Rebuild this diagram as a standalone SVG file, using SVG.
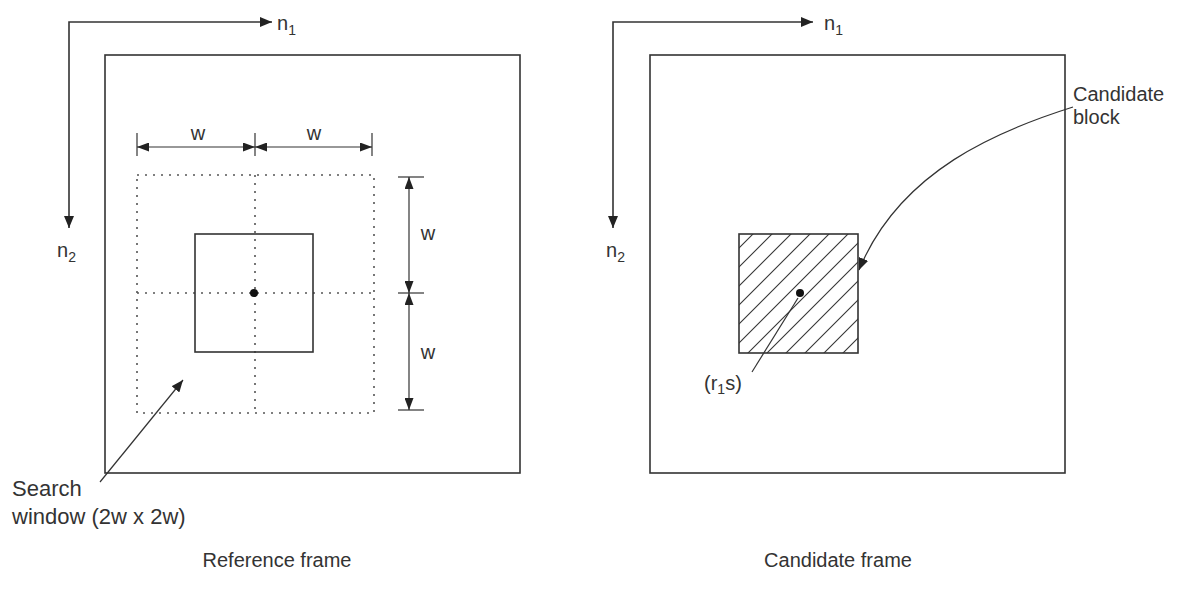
<svg xmlns="http://www.w3.org/2000/svg" width="1190" height="596" viewBox="0 0 1190 596">
<style>
.ln{stroke:#333;stroke-width:1.6;fill:none}
.thin{stroke:#333;stroke-width:1.2;fill:none}
.dot{stroke:#555;stroke-width:1.6;fill:none;stroke-dasharray:2 6}
.t{font-family:"Liberation Sans",Arial,sans-serif;font-size:20px;fill:#333}
.big{font-size:22px}
.sub{font-size:14px}
.hatch{stroke:#333;stroke-width:1.1}
</style>
<defs>
<marker id="ah" viewBox="0 0 12 10" refX="12" refY="5" markerWidth="12" markerHeight="10" markerUnits="userSpaceOnUse" orient="auto-start-reverse">
<path d="M0,0 L12,5 L0,10 z" fill="#222"/>
</marker>
<marker id="ahs" viewBox="0 0 12 9" refX="12" refY="4.5" markerWidth="12" markerHeight="9" markerUnits="userSpaceOnUse" orient="auto-start-reverse">
<path d="M0,0 L12,4.5 L0,9 z" fill="#222"/>
</marker>
<clipPath id="cb"><rect x="739" y="234" width="119" height="119"/></clipPath>
</defs>

<g id="ref-axes">
<path class="ln" d="M69,228 V22 H272" marker-start="url(#ah)" marker-end="url(#ah)"/>
<text class="t" x="277" y="30">n<tspan class="sub" dy="5">1</tspan></text>
<text class="t" x="57" y="257">n<tspan class="sub" dy="5">2</tspan></text>
</g>

<g id="reference-frame">
<rect class="ln" x="105" y="55" width="415" height="418"/>
</g>

<g id="search-window">
<rect class="dot" x="137" y="175" width="237" height="238"/>
<line class="dot" x1="255" y1="175" x2="255" y2="413"/>
<line class="dot" x1="137" y1="293" x2="374" y2="293"/>
</g>

<g id="reference-block">
<rect class="ln" x="195" y="234" width="118" height="118"/>
<circle cx="254" cy="293" r="4" fill="#111"/>
</g>

<g id="dimensions">
<line class="thin" x1="137" y1="133" x2="137" y2="156"/>
<line class="thin" x1="255" y1="133" x2="255" y2="156"/>
<line class="thin" x1="372" y1="133" x2="372" y2="156"/>
<line class="thin" x1="137" y1="147" x2="255" y2="147" marker-start="url(#ahs)" marker-end="url(#ahs)"/>
<line class="thin" x1="255" y1="147" x2="372" y2="147" marker-start="url(#ahs)" marker-end="url(#ahs)"/>
<text class="t" x="198" y="140" text-anchor="middle">w</text>
<text class="t" x="314" y="140" text-anchor="middle">w</text>
<line class="thin" x1="398" y1="177" x2="424" y2="177"/>
<line class="thin" x1="398" y1="293" x2="424" y2="293"/>
<line class="thin" x1="398" y1="410" x2="424" y2="410"/>
<line class="thin" x1="409" y1="177" x2="409" y2="293" marker-start="url(#ahs)" marker-end="url(#ahs)"/>
<line class="thin" x1="409" y1="293" x2="409" y2="410" marker-start="url(#ahs)" marker-end="url(#ahs)"/>
<text class="t" x="428" y="240" text-anchor="middle">w</text>
<text class="t" x="428" y="359" text-anchor="middle">w</text>
</g>

<g id="search-label">
<text class="t big" x="12" y="496">Search</text>
<text class="t big" x="12" y="524">window (2w x 2w)</text>
</g>

<g id="cand-axes">
<path class="ln" d="M613,228 V22 H813" marker-start="url(#ah)" marker-end="url(#ah)"/>
<text class="t" x="824" y="30">n<tspan class="sub" dy="5">1</tspan></text>
<text class="t" x="606" y="257">n<tspan class="sub" dy="5">2</tspan></text>
</g>

<g id="candidate-frame">
<rect class="ln" x="650" y="55" width="415" height="418"/>
</g>

<g id="candidate-block">
<g clip-path="url(#cb)">
<line class="hatch" x1="787" y1="200" x2="587" y2="400"/>
<line class="hatch" x1="806" y1="200" x2="606" y2="400"/>
<line class="hatch" x1="825" y1="200" x2="625" y2="400"/>
<line class="hatch" x1="844" y1="200" x2="644" y2="400"/>
<line class="hatch" x1="863" y1="200" x2="663" y2="400"/>
<line class="hatch" x1="882" y1="200" x2="682" y2="400"/>
<line class="hatch" x1="901" y1="200" x2="701" y2="400"/>
<line class="hatch" x1="920" y1="200" x2="720" y2="400"/>
<line class="hatch" x1="939" y1="200" x2="739" y2="400"/>
<line class="hatch" x1="958" y1="200" x2="758" y2="400"/>
<line class="hatch" x1="977" y1="200" x2="777" y2="400"/>
<line class="hatch" x1="996" y1="200" x2="796" y2="400"/>
</g>
<rect class="ln" x="739" y="234" width="119" height="119"/>
<circle cx="800" cy="293" r="4" fill="#111"/>
</g>

<g id="labels">
<text class="t" x="1073" y="101">Candidate</text>
<text class="t" x="1073" y="124">block</text>
<text class="t" x="704" y="390">(r<tspan class="sub" dy="4">1</tspan><tspan dy="-4">s)</tspan></text>
<text class="t" x="277" y="567" text-anchor="middle">Reference frame</text>
<text class="t" x="838" y="567" text-anchor="middle">Candidate frame</text>
</g>

<g id="connectors">
<line class="thin" x1="100" y1="482" x2="183" y2="380" marker-end="url(#ah)"/>
<path class="thin" d="M1073,107 C1000,130 900,170 859,270" marker-end="url(#ah)"/>
<line class="thin" x1="752" y1="372" x2="798" y2="298"/>
</g>
</svg>
